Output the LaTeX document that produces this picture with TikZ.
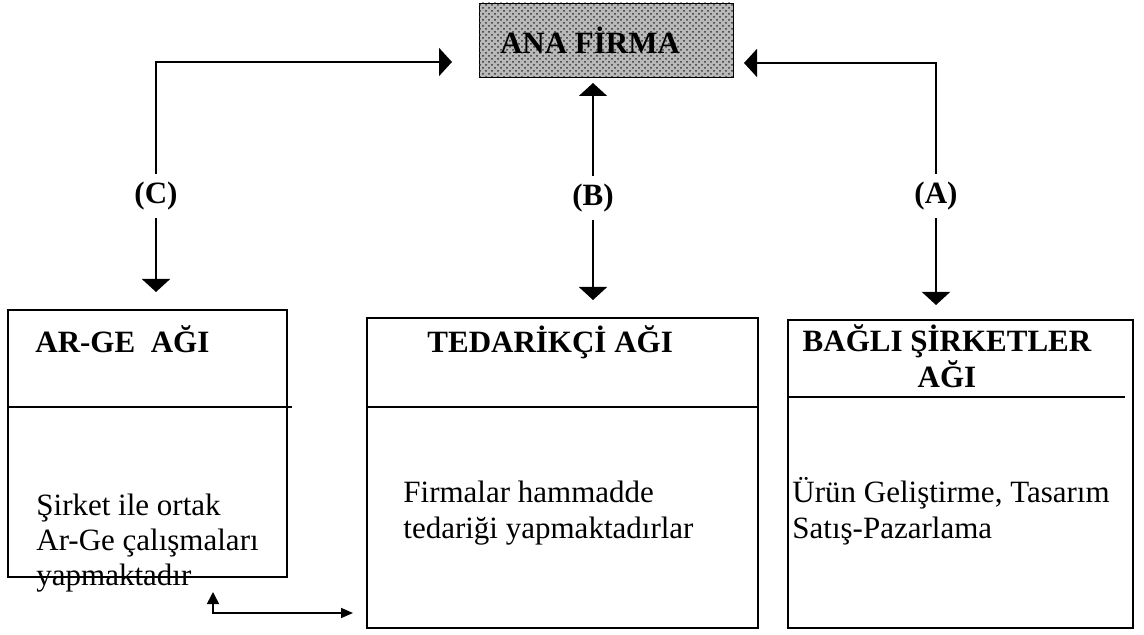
\documentclass[tikz,border=0pt]{standalone}
\usepackage{fontspec}
\setmainfont{Liberation Serif}
\usepackage{tikz}
\usetikzlibrary{calc, patterns, arrows.meta, positioning}
\tikzset{
    firmanode/.style = {draw, rectangle, inner sep=0pt, minimum width=127pt, minimum height=37pt,
      fill=gray!55, postaction={pattern=crosshatch dots, pattern color=gray!40!black},
      font=\fontsize{15.5}{17}\selectfont\bfseries},
    agnode/.style = {draw, rectangle, inner sep=0pt, line width=0.9pt},
    titlenode/.style = {draw=none, inner sep=0pt, anchor=base west, font=\fontsize{15.5}{18}\selectfont\bfseries},
    textnode/.style = {draw=none, inner sep=0pt, anchor=base west, align=left, font=\fontsize{15.5}{17.5}\selectfont},
    labelnode/.style = {draw=none, inner sep=4pt, font=\fontsize{15.5}{17}\selectfont\bfseries},
    connect/.style = {line width=0.9pt, -{Triangle[length=6.5pt,width=14pt]}},
    smallconnect/.style = {line width=0.8pt, {Triangle[length=6pt,width=6pt]}-{Triangle[length=6pt,width=5pt]}},
    divider/.style = {line width=0.9pt}
}

\begin{document}
\begin{tikzpicture}[x=0.5pt, y=-0.5pt]
    \useasboundingbox (0,0) rectangle (1144,635);

    % ana firma
    \node[firmanode, name=Ana] at (606,40) {\hspace*{-16pt}ANA FİRMA};

    % three networks
    \node[agnode, name=ArGe, minimum width=139.5pt, minimum height=133.5pt] at (147.5,443.5) {};
    \node[agnode, name=Tedarik, minimum width=195.5pt, minimum height=155pt] at (562.5,473) {};
    \node[agnode, name=Bagli, minimum width=172.5pt, minimum height=154pt] at (960.5,474) {};

    \draw[divider] (8,407) -- (292,407);
    \draw[divider] (367,407) -- (758,407);
    \draw[divider] (788,397) -- (1125,397);

    % base of a multi-line node is its last line
    \node[titlenode, name=ArGeTitle] at (35,353) {AR-GE\ \ AĞI};
    \node[titlenode, name=TedarikTitle] at (427,353) {TEDARİKÇİ AĞI};
    \node[titlenode, name=BagliTitle, anchor=base, align=center] at (947,388) {BAĞLI ŞİRKETLER\\AĞI};

    \node[textnode, name=ArGeText] at (36,585) {Şirket ile ortak\\Ar-Ge çalışmaları\\yapmaktadır};
    \node[textnode, name=TedarikText] at (403,538) {Firmalar hammadde\\tedariği yapmaktadırlar};
    \node[textnode, name=BagliText] at (792,538) {Ürün Geliştirme, Tasarım\\Satış-Pazarlama};

    % labels on the links
    \node[labelnode, name=LabC] at (156,196) {(C)};
    \node[labelnode, name=LabB] at (593,198) {(B)};
    \node[labelnode, name=LabA] at (936,196) {(A)};

    \coordinate (tipC) at (452,62);
    \coordinate (tipA) at (744,63);
    \coordinate (tipB) at (593,83);
    \coordinate (downC) at (156,292);
    \coordinate (downB) at (593,300);
    \coordinate (downA) at (936,305);

    \draw[connect] (LabC) |- (tipC);
    \draw[connect] (LabC) -- (downC);
    \draw[connect] (LabB) -- (tipB);
    \draw[connect] (LabB) -- (downB);
    \draw[connect] (LabA) |- (tipA);
    \draw[connect] (LabA) -- (downA);

    % link between ar-ge and tedarik
    \coordinate (linkA) at (213,592);
    \coordinate (linkB) at (353,613);
    \draw[smallconnect] (linkA) |- (linkB);
\end{tikzpicture}
\end{document}
